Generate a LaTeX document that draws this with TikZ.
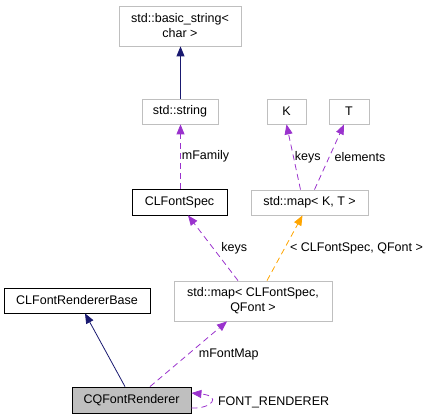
\documentclass[tikz,border=0pt]{standalone}
\usepackage{fontspec}
\setmainfont{Liberation Sans}
\usetikzlibrary{arrows.meta}
\definecolor{edgeblue}{RGB}{25,25,112}
\definecolor{edgepurple}{RGB}{154,50,205}
\definecolor{edgeorange}{RGB}{255,165,0}
\definecolor{boxgray}{RGB}{191,191,191}

\begin{document}
\begin{tikzpicture}[x=1pt,y=-1pt,font=\fontsize{12.5}{15}\selectfont,>={Triangle[length=10pt,width=8pt]},
 cls/.style={draw=black,line width=0.8pt,inner sep=0pt,align=center},
 ext/.style={cls,draw=boxgray},
 cur/.style={cls,fill=boxgray},
 inherit/.style={->,line width=0.8pt,draw=edgeblue},
 uses/.style={->,line width=0.8pt,draw=edgepurple,dash pattern=on 6pt off 4pt},
 tmpl/.style={->,line width=0.8pt,draw=edgeorange,dash pattern=on 6pt off 4pt},
 lbl/.style={inner sep=1pt,text=black}]
\useasboundingbox (0,0) rectangle (433,419);
\node[ext,minimum width=122pt,minimum height=40pt] (bstr) at (180,26) {std::basic\_string<\\char >};
\node[ext,minimum width=76pt,minimum height=25pt] (str) at (180,111.5) {std::string};
\node[ext,minimum width=39pt,minimum height=25pt] (K) at (286.5,111.5) {K};
\node[ext,minimum width=40pt,minimum height=25pt] (T) at (349,111.5) {T};
\node[cls,minimum width=95pt,minimum height=26pt] (spec) at (179.5,202) {CLFontSpec};
\node[ext,minimum width=117pt,minimum height=25pt] (mapkt) at (309.5,202.5) {std::map< K, T >};
\node[cls,minimum width=146pt,minimum height=25pt] (base) at (77,300.5) {CLFontRendererBase};
\node[ext,minimum width=158pt,minimum height=40pt] (mapsq) at (253,301) {std::map< CLFontSpec,\\QFont >};
\node[cur,minimum width=119pt,minimum height=26pt] (rend) at (131.5,400) {CQFontRenderer};
% inheritance
\draw[inherit] ([xshift=0.5pt]str.north) -- ([xshift=0.5pt]bstr.south);
\draw[inherit] ([xshift=-6.5pt]rend.north) -- ([xshift=8pt]base.south);
% members
\draw[uses] ([xshift=1pt]spec.north) -- node[lbl,right]{mFamily} ([xshift=0.5pt]str.south);
\draw[uses] ([xshift=-9pt]mapkt.north) -- node[lbl,right]{keys} (K.south);
\draw[uses] ([xshift=5pt]mapkt.north) -- node[lbl,right,xshift=4pt]{elements} ([xshift=-5pt]T.south);
\draw[uses] ([xshift=-15pt]mapsq.north) -- node[lbl,right,xshift=7pt]{keys} ([xshift=8.5pt]spec.south);
\draw[uses] ([xshift=18.5pt]rend.north) -- node[lbl,right,xshift=9pt]{mFontMap} ([xshift=-26pt]mapsq.south);
\draw[uses] ([yshift=-8pt]rend.east) .. controls (212,409) and (222,396) .. node[lbl,right,xshift=6pt]{FONT\_RENDERER} ([yshift=7pt]rend.east);
% template instance
\draw[tmpl] ([xshift=14pt]mapsq.north) -- node[lbl,right,xshift=4pt]{< CLFontSpec, QFont >} ([xshift=-7pt]mapkt.south);
\end{tikzpicture}
\end{document}
